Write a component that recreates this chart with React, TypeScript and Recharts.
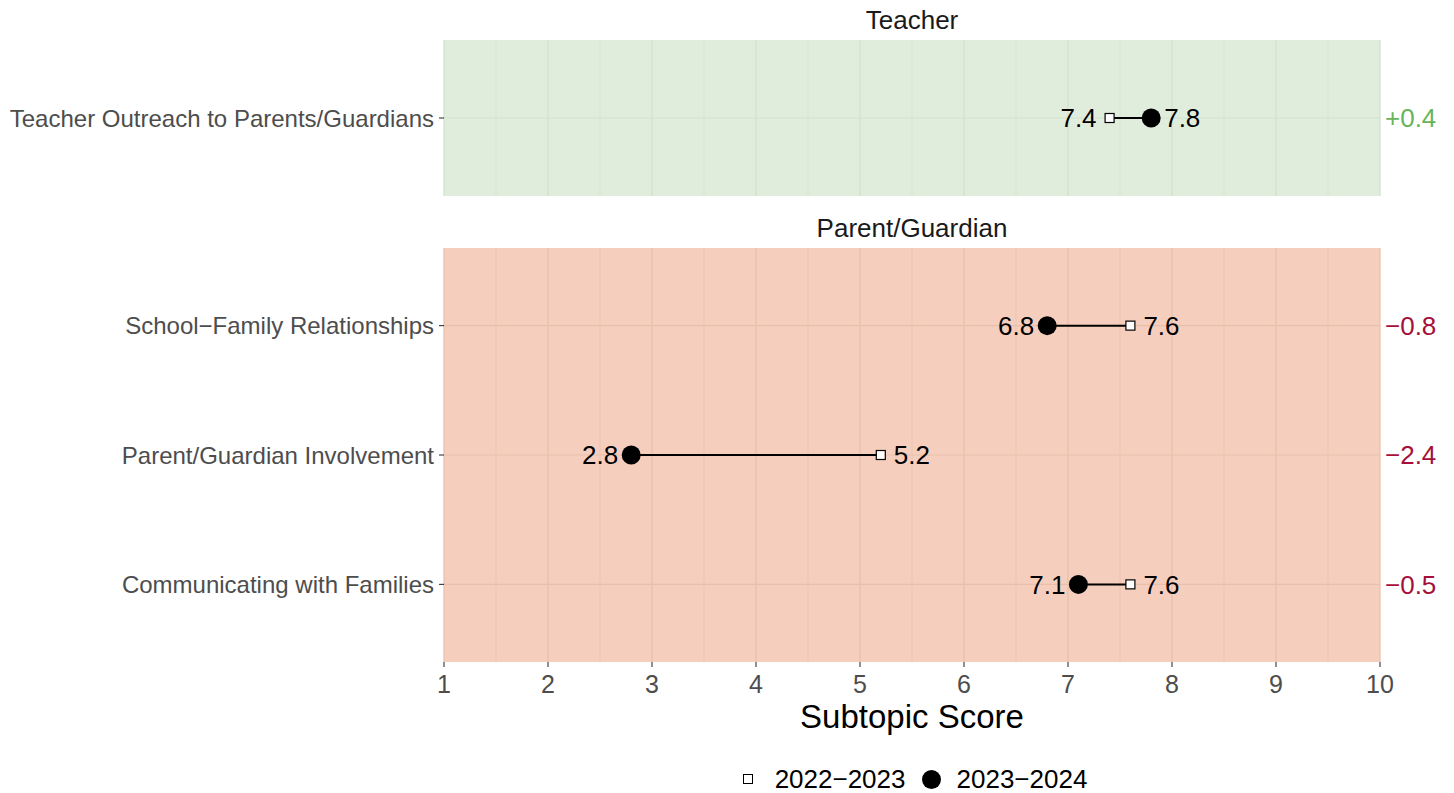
import React from "react";
import {
  ScatterChart,
  Scatter,
  XAxis,
  YAxis,
  ReferenceLine,
} from "recharts";

// categories per facet
const teacherTopics = ["Teacher Outreach to Parents/Guardians"];
const parentTopics = [
  "School\u2212Family Relationships",
  "Parent/Guardian Involvement",
  "Communicating with Families",
];

// scores
const teacherPrev = [7.4];
const teacherCurr = [7.8];
const parentPrev = [7.6, 5.2, 7.6];
const parentCurr = [6.8, 2.8, 7.1];

// x-axis ticks
const xMajor = [1, 2, 3, 4, 5, 6, 7, 8, 9, 10];
const xMinor = [1.5, 2.5, 3.5, 4.5, 5.5, 6.5, 7.5, 8.5, 9.5];

const FONT = "'Liberation Sans', Arial, sans-serif";
const W = 1454;
const LEFT = 444;
const RIGHT = 74;

function fmtDiff(d: number) {
  const s = Math.abs(d).toFixed(1);
  return (d > 0 ? "+" : "\u2212") + s;
}

function Panel({
  labels,
  prev,
  curr,
  bg,
  grid,
  diffColor,
  top,
  plotH,
  showAxis,
}: {
  labels: string[];
  prev: number[];
  curr: number[];
  bg: string;
  grid: string;
  diffColor: string;
  top: number;
  plotH: number;
  showAxis: boolean;
}) {
  const rows = labels.map((label, i) => ({ row: i + 1, label, prev: prev[i], curr: curr[i] }));
  const prevPts = rows.map((r) => ({ x: r.prev, y: r.row, side: r.prev < r.curr ? -1 : 1 }));
  const currPts = rows.map((r) => ({ x: r.curr, y: r.row, side: r.curr < r.prev ? -1 : 1 }));
  const yTicks = rows.map((r) => r.row);
  const diffs = rows.map((r) => fmtDiff(r.curr - r.prev));
  const axisH = showAxis ? 60 : 0;
  const domain: [number, number] = [0.4, labels.length + 0.6];

  const label = (cx: number, cy: number, side: number, v: number) => (
    <text
      x={cx + side * 13}
      y={cy}
      dy="0.36em"
      textAnchor={side < 0 ? "end" : "start"}
      fontSize={26}
      fill="#000"
      fontFamily={FONT}
    >
      {v.toFixed(1)}
    </text>
  );

  return (
    <div style={{ position: "absolute", left: 0, top, width: W, height: plotH + axisH }}>
      <div
        style={{
          position: "absolute",
          left: LEFT,
          top: 0,
          width: W - LEFT - RIGHT,
          height: plotH,
          background: bg,
        }}
      />
      <div style={{ position: "absolute", left: 0, top: 0 }}>
        <ScatterChart
          width={W}
          height={plotH + axisH}
          margin={{ top: 0, right: 0, bottom: 0, left: 0 }}
        >
          <XAxis
            type="number"
            dataKey="x"
            domain={[1, 10]}
            ticks={xMajor}
            allowDataOverflow
            hide={!showAxis}
            height={axisH}
            axisLine={false}
            tickLine={{ stroke: "#333333", strokeWidth: 1.1 }}
            tickSize={5}
            tickMargin={8}
            tick={{ fill: "#4d4d4d", fontSize: 25, fontFamily: FONT }}
          />
          <YAxis
            yAxisId="left"
            type="number"
            dataKey="y"
            domain={domain}
            reversed
            ticks={yTicks}
            width={LEFT}
            axisLine={false}
            tickLine={{ stroke: "#333333", strokeWidth: 1.1 }}
            tickSize={5}
            tickMargin={5}
            tickFormatter={(v: number) => labels[v - 1] ?? ""}
            tick={{ fill: "#4d4d4d", fontSize: 24, fontFamily: FONT }}
          />
          <YAxis
            yAxisId="right"
            orientation="right"
            type="number"
            dataKey="y"
            domain={domain}
            reversed
            ticks={yTicks}
            width={RIGHT}
            axisLine={false}
            tickLine={false}
            tickSize={0}
            tickMargin={5}
            tick={(p: any) => (
              <text
                x={p.x}
                y={p.y}
                dy="0.36em"
                textAnchor="start"
                fontSize={26}
                fill={diffColor}
                fontFamily={FONT}
              >
                {diffs[p.payload.value - 1]}
              </text>
            )}
          />
          {xMinor.map((v) => (
            <ReferenceLine key={"mn" + v} yAxisId="left" x={v} stroke={grid} strokeWidth={0.6} />
          ))}
          {xMajor.map((v) => (
            <ReferenceLine key={"mj" + v} yAxisId="left" x={v} stroke={grid} strokeWidth={1.2} />
          ))}
          {yTicks.map((v) => (
            <ReferenceLine key={"h" + v} yAxisId="left" y={v} stroke={grid} strokeWidth={1.2} />
          ))}
          {rows.map((r) => (
            <ReferenceLine
              key={"seg" + r.row}
              yAxisId="left"
              segment={[
                { x: r.prev, y: r.row },
                { x: r.curr, y: r.row },
              ]}
              stroke="#000"
              strokeWidth={2}
            />
          ))}
          <Scatter
            yAxisId="right"
            data={prevPts}
            isAnimationActive={false}
            shape={(p: any) => (
              <g>
                <rect
                  x={p.cx - 4.5}
                  y={p.cy - 4.5}
                  width={9}
                  height={9}
                  fill="#fff"
                  stroke="#000"
                  strokeWidth={1.2}
                />
                {label(p.cx, p.cy, p.payload.side, p.payload.x)}
              </g>
            )}
          />
          <Scatter
            yAxisId="left"
            data={currPts}
            isAnimationActive={false}
            shape={(p: any) => (
              <g>
                <circle cx={p.cx} cy={p.cy} r={9.5} fill="#000" />
                {label(p.cx, p.cy, p.payload.side, p.payload.x)}
              </g>
            )}
          />
        </ScatterChart>
      </div>
    </div>
  );
}

const centerText = (text: string, top: number, size: number, color: string) => (
  <div
    style={{
      position: "absolute",
      left: LEFT,
      width: W - LEFT - RIGHT,
      top,
      textAlign: "center",
      fontSize: size,
      lineHeight: 1,
      color,
    }}
  >
    {text}
  </div>
);

export default function App() {
  return (
    <div
      style={{
        position: "absolute",
        left: 0,
        top: 0,
        width: W,
        height: 793,
        background: "#fff",
        fontFamily: FONT,
      }}
    >
      {centerText("Teacher", 7, 26, "#1a1a1a")}
      <Panel
        labels={teacherTopics}
        prev={teacherPrev}
        curr={teacherCurr}
        bg="#e0eddc"
        grid="#d1e1cd"
        diffColor="#66b55a"
        top={40}
        plotH={156}
        showAxis={false}
      />
      {centerText("Parent/Guardian", 215, 26, "#1a1a1a")}
      <Panel
        labels={parentTopics}
        prev={parentPrev}
        curr={parentCurr}
        bg="#f5cebd"
        grid="#e8bfad"
        diffColor="#a50f3a"
        top={248}
        plotH={414}
        showAxis={true}
      />
      {centerText("Subtopic Score", 700, 33, "#000")}
      <div
        style={{
          position: "absolute",
          left: LEFT,
          width: W - LEFT - RIGHT,
          top: 766,
          display: "flex",
          justifyContent: "center",
          alignItems: "center",
          fontSize: 26,
          lineHeight: 1,
          color: "#000",
        }}
      >
        <span
          style={{
            display: "inline-block",
            width: 8,
            height: 8,
            border: "1.2px solid #000",
            background: "#fff",
            marginRight: 22,
            marginLeft: 6,
          }}
        />
        <span style={{ marginRight: 16 }}>2022{"\u2212"}2023</span>
        <span
          style={{
            display: "inline-block",
            width: 19,
            height: 19,
            borderRadius: "50%",
            background: "#000",
            marginRight: 16,
          }}
        />
        <span>2023{"\u2212"}2024</span>
      </div>
    </div>
  );
}
